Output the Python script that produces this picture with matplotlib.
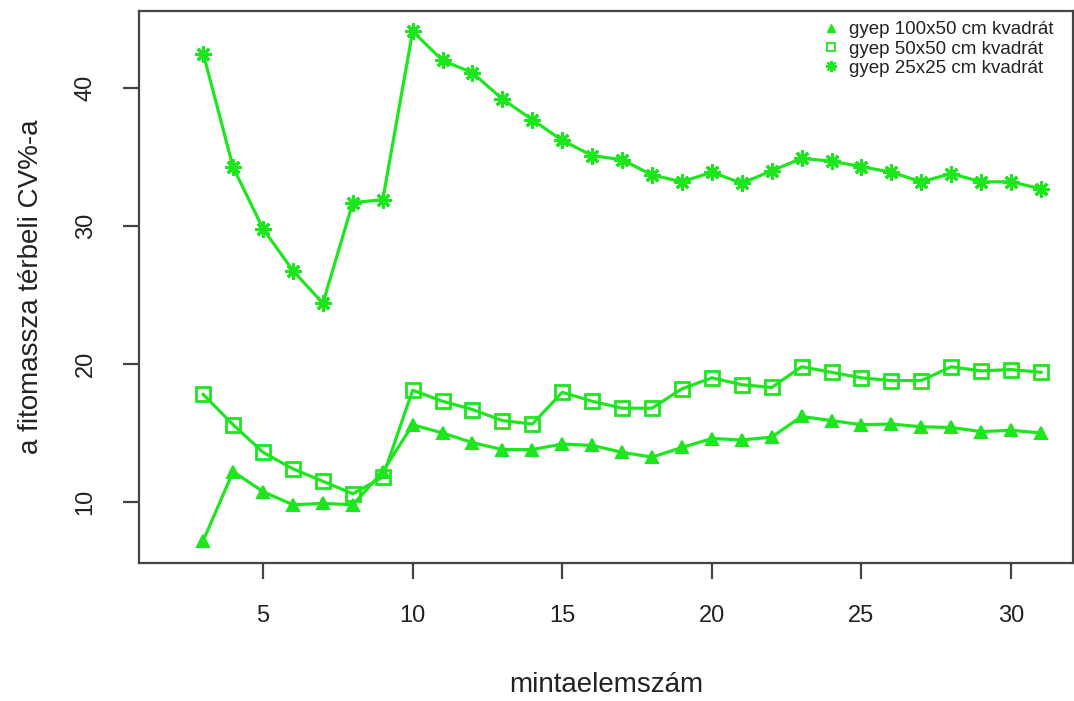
import matplotlib
matplotlib.use("Agg")
import matplotlib.pyplot as plt
from matplotlib.lines import Line2D

# ---- data ----
n_samples = list(range(3, 32))
cv_100x50 = [7.2, 12.2, 10.75, 9.8, 9.9, 9.8, 12.2, 15.6, 15.0, 14.3, 13.8, 13.8,
             14.2, 14.1, 13.6, 13.25, 13.95, 14.6, 14.5, 14.7, 16.2, 15.9, 15.6,
             15.65, 15.45, 15.4, 15.1, 15.2, 15.0]
cv_50x50 = [17.8, 15.6, 13.6, 12.4, 11.5, 10.6, 11.8, 18.1, 17.3, 16.7, 15.9, 15.65,
            17.95, 17.3, 16.8, 16.8, 18.2, 19.0, 18.5, 18.3, 19.8, 19.4, 19.0,
            18.8, 18.8, 19.8, 19.5, 19.6, 19.4]
cv_25x25 = [42.5, 34.25, 29.8, 26.76, 24.4, 31.7, 31.9, 44.1, 42.0, 41.1, 39.2, 37.7,
            36.2, 35.1, 34.8, 33.7, 33.2, 33.9, 33.1, 34.0, 34.9, 34.7, 34.3,
            33.9, 33.2, 33.8, 33.2, 33.2, 32.7]
legend_labels = ["gyep 100x50 cm kvadrát", "gyep 50x50 cm kvadrát", "gyep 25x25 cm kvadrát"]
x_ticks = [5, 10, 15, 20, 25, 30]
y_ticks = [10, 20, 30, 40]
x_label = "mintaelemszám"
y_label = "a fitomassza térbeli CV%-a"

plt.rcParams['font.family'] = ['Liberation Sans', 'DejaVu Sans']

GREEN = '#1ee61e'
AX_COL = '#444444'
TXT_COL = '#222222'

fig = plt.figure(figsize=(10.74, 7.01), dpi=100)
ax = fig.add_axes([139/1074, (701-563)/701, (1073-139)/1074, (563-11)/701])

ax.plot(n_samples, cv_100x50, color=GREEN, lw=2.3, marker='^', ms=9,
        mfc=GREEN, mec=GREEN, mew=1.5)
ax.plot(n_samples, cv_50x50, color=GREEN, lw=2.3, marker='s', ms=10,
        mfc='none', mec=GREEN, mew=2.0)
ax.plot(n_samples, cv_25x25, color=GREEN, lw=2.3, marker=(8, 2, 0), ms=11.5,
        mfc=GREEN, mec=GREEN, mew=2.2)

ax.set_xlim(0.854, 32.07)
ax.set_ylim(5.58, 45.58)
ax.set_xticks(x_ticks)
ax.set_yticks(y_ticks)

for s in ax.spines.values():
    s.set_color(AX_COL)
    s.set_linewidth(1.6)

ax.tick_params(axis='both', direction='out', length=11.5, width=1.6,
               colors=AX_COL, labelcolor=TXT_COL, labelsize=17)
ax.tick_params(axis='x', pad=19)
ax.tick_params(axis='y', pad=19, labelrotation=90)
for lab in ax.get_yticklabels():
    lab.set_va('center')

ax.set_xlabel(x_label, fontsize=20, color=TXT_COL, labelpad=32)
ax.set_ylabel(y_label, fontsize=20, color=TXT_COL, labelpad=22)

handles = [
    Line2D([], [], ls='none', marker='^', ms=6, color=GREEN),
    Line2D([], [], ls='none', marker='s', ms=6, mfc='none', mec=GREEN, mew=1.3),
    Line2D([], [], ls='none', marker=(8, 2, 0), ms=8, mec=GREEN, mew=1.5),
]
leg = fig.legend(handles, legend_labels, loc='upper left',
                 bbox_to_anchor=(822/1074, 1 - 21/701),
                 frameon=False, fontsize=13.5, labelspacing=0.12,
                 handlelength=1.0, handletextpad=0.45, borderpad=0,
                 borderaxespad=0)
for t in leg.get_texts():
    t.set_color(TXT_COL)

fig.savefig("out.png", dpi=100)
